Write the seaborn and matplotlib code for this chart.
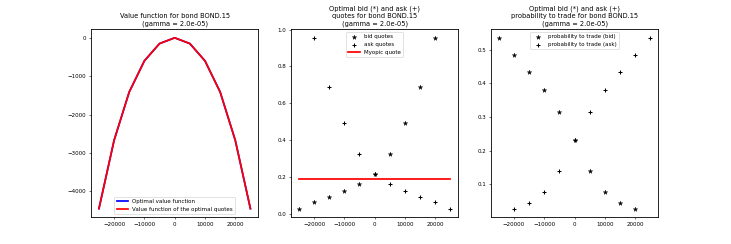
import numpy as np
import pandas as pd
import matplotlib
matplotlib.use('Agg')
import matplotlib.pyplot as plt
import seaborn as sns

plt.rcParams['font.size'] = 8
plt.rcParams['axes.linewidth'] = 1.2
plt.rcParams['lines.linewidth'] = 2.5

# inventory grid
inventory = [-25000, -20000, -15000, -10000, -5000, 0, 5000, 10000, 15000, 20000, 25000]

# value function (optimal / of the optimal quotes)
value_opt = [-4450, -2670, -1410, -600, -150, 0, -150, -600, -1410, -2670, -4450]
value_quotes = [-4450, -2670, -1410, -600, -150, 0, -150, -600, -1410, -2670, -4450]

# optimal quotes (nan where not quoted)
bid_quotes = [0.027, 0.062, 0.092, 0.123, 0.163, 0.217, 0.324, 0.491, 0.690, 0.955, np.nan]
ask_quotes = [np.nan, 0.955, 0.690, 0.491, 0.324, 0.217, 0.163, 0.123, 0.092, 0.062, 0.027]
myopic_quote = 0.187

# probability to trade
prob_bid = [0.535, 0.483, 0.435, 0.379, 0.314, 0.232, 0.140, 0.076, 0.046, 0.028, np.nan]
prob_ask = [np.nan, 0.028, 0.046, 0.076, 0.140, 0.232, 0.314, 0.379, 0.435, 0.483, 0.535]

df = pd.DataFrame({'q': inventory, 'v_opt': value_opt, 'v_quotes': value_quotes,
                   'bid': bid_quotes, 'ask': ask_quotes,
                   'p_bid': prob_bid, 'p_ask': prob_ask})

fig, axes = plt.subplots(nrows=1, ncols=3, figsize=(14.62, 4.88))

# 1. value function
ax = axes[0]
sns.lineplot(data=df, x='q', y='v_opt', ax=ax, color='blue', label='Optimal value function')
sns.lineplot(data=df, x='q', y='v_quotes', ax=ax, color='red', label='Value function of the optimal quotes')
ax.set_title('Value function for bond BOND.15\n(gamma = 2.0e-05)')
ax.legend(loc='lower center')
ax.set_xlabel('')
ax.set_ylabel('')

# 2. optimal quotes
ax = axes[1]
sns.scatterplot(data=df, x='q', y='bid', ax=ax, marker='*', color='black', edgecolor='black', s=45, label='bid quotes')
sns.scatterplot(data=df, x='q', y='ask', ax=ax, marker='+', color='black', linewidth=1.5, s=45, label='ask quotes')
sns.lineplot(x=[inventory[0], inventory[-1]], y=[myopic_quote, myopic_quote], ax=ax, color='red', label='Myopic quote')
ax.set_title('Optimal bid (*) and ask (+)\nquotes for bond BOND.15\n(gamma = 2.0e-05)')
ax.legend(loc='upper center')
ax.set_xlabel('')
ax.set_ylabel('')

# 3. probability to trade
ax = axes[2]
sns.scatterplot(data=df, x='q', y='p_bid', ax=ax, marker='*', color='black', edgecolor='black', s=45, label='probability to trade (bid)')
sns.scatterplot(data=df, x='q', y='p_ask', ax=ax, marker='+', color='black', linewidth=1.5, s=45, label='probability to trade (ask)')
ax.set_title('Optimal bid (*) and ask (+)\nprobability to trade for bond BOND.15\n(gamma = 2.0e-05)')
ax.legend(loc='upper center')
ax.set_xlabel('')
ax.set_ylabel('')

plt.savefig('out.png', dpi=50)
